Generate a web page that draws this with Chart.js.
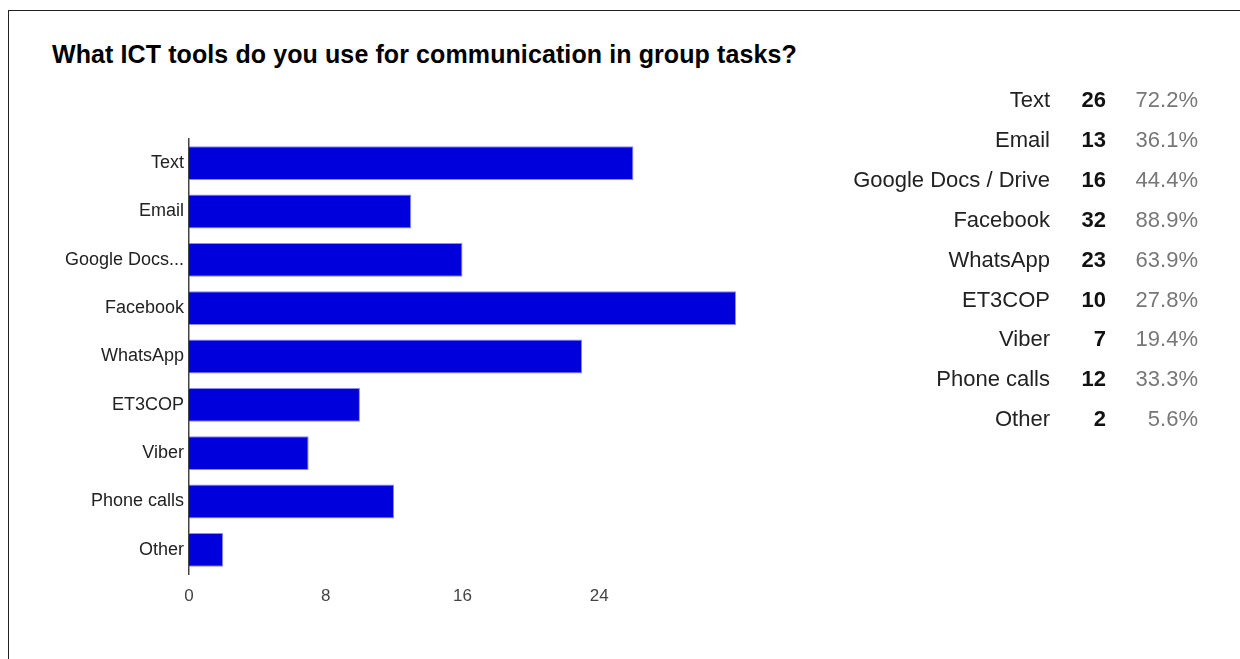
<!DOCTYPE html>
<html>
<head>
<meta charset="utf-8">
<script src="https://cdn.jsdelivr.net/npm/chart.js"></script>
<style>
html,body{margin:0;padding:0;overflow:hidden;background:#fff;}
body{width:1240px;height:659px;position:relative;font-family:"Liberation Sans",Arial,sans-serif;}
#frame{position:absolute;left:8px;top:10px;width:1400px;height:800px;border:1.5px solid #222;}
#title{position:absolute;left:52px;top:40px;font-size:25px;font-weight:bold;color:#000;white-space:nowrap;letter-spacing:0.1px;}
#mycanvas{position:absolute;left:0;top:0;}
.cell{position:absolute;font-size:22px;height:30px;line-height:30px;white-space:nowrap;text-align:right;}
</style>
</head>
<body>
<div id="frame"></div>
<div id="title">What ICT tools do you use for communication in group tasks?</div>
<canvas id="mycanvas" width="1240" height="659"></canvas>
<div id="table"></div>
<script>
var tools=["Text","Email","Google Docs / Drive","Facebook","WhatsApp","ET3COP","Viber","Phone calls","Other"];
var counts=[26,13,16,32,23,10,7,12,2];
var percents=["72.2%","36.1%","44.4%","88.9%","63.9%","27.8%","19.4%","33.3%","5.6%"];
var xTicks=[0,8,16,24];

// table on the right
var table=document.getElementById('table');
for(var i=0;i<tools.length;i++){
  var rowTop=85+i*39.9;
  var a=document.createElement('div');
  a.className='cell';a.style.top=rowTop+'px';a.style.right='190px';a.style.color='#222';
  a.textContent=tools[i];
  var b=document.createElement('div');
  b.className='cell';b.style.top=rowTop+'px';b.style.right='134px';b.style.color='#111';b.style.fontWeight='bold';
  b.textContent=counts[i];
  var c=document.createElement('div');
  c.className='cell';c.style.top=rowTop+'px';c.style.right='42px';c.style.color='#777';
  c.textContent=percents[i];
  table.appendChild(a);table.appendChild(b);table.appendChild(c);
}

var ctx=document.getElementById('mycanvas');
var barGraph=new Chart(ctx,{
  type:'bar',
  data:{
    labels:tools,
    datasets:[{
      data:counts,
      backgroundColor:'#0000dc',
      borderColor:'rgba(110,110,240,0.8)',
      borderWidth:1,
      categoryPercentage:0.7,
      barPercentage:1
    }]
  },
  options:{
    indexAxis:'y',
    responsive:false,
    animation:false,
    layout:{padding:{left:0,top:139,right:504,bottom:45}},
    plugins:{legend:{display:false},tooltip:{enabled:false}},
    scales:{
      x:{
        min:0,max:32,
        afterBuildTicks:function(s){s.ticks=xTicks.map(function(v){return {value:v};});},
        afterFit:function(s){s.height=40;},
        grid:{display:false,drawTicks:false},
        border:{display:false},
        ticks:{padding:12,color:'#444',font:{family:'"Liberation Sans", Arial',size:17}}
      },
      y:{
        afterFit:function(s){s.width=189;},
        grid:{display:false,drawTicks:false},
        border:{display:true,color:'#444',width:1.5},
        ticks:{
          padding:5,color:'#222',font:{family:'"Liberation Sans", Arial',size:18},
          callback:function(v){var l=this.getLabelForValue(v);return l.length>12?l.slice(0,11)+'...':l;}
        }
      }
    }
  }
});
</script>
</body>
</html>
